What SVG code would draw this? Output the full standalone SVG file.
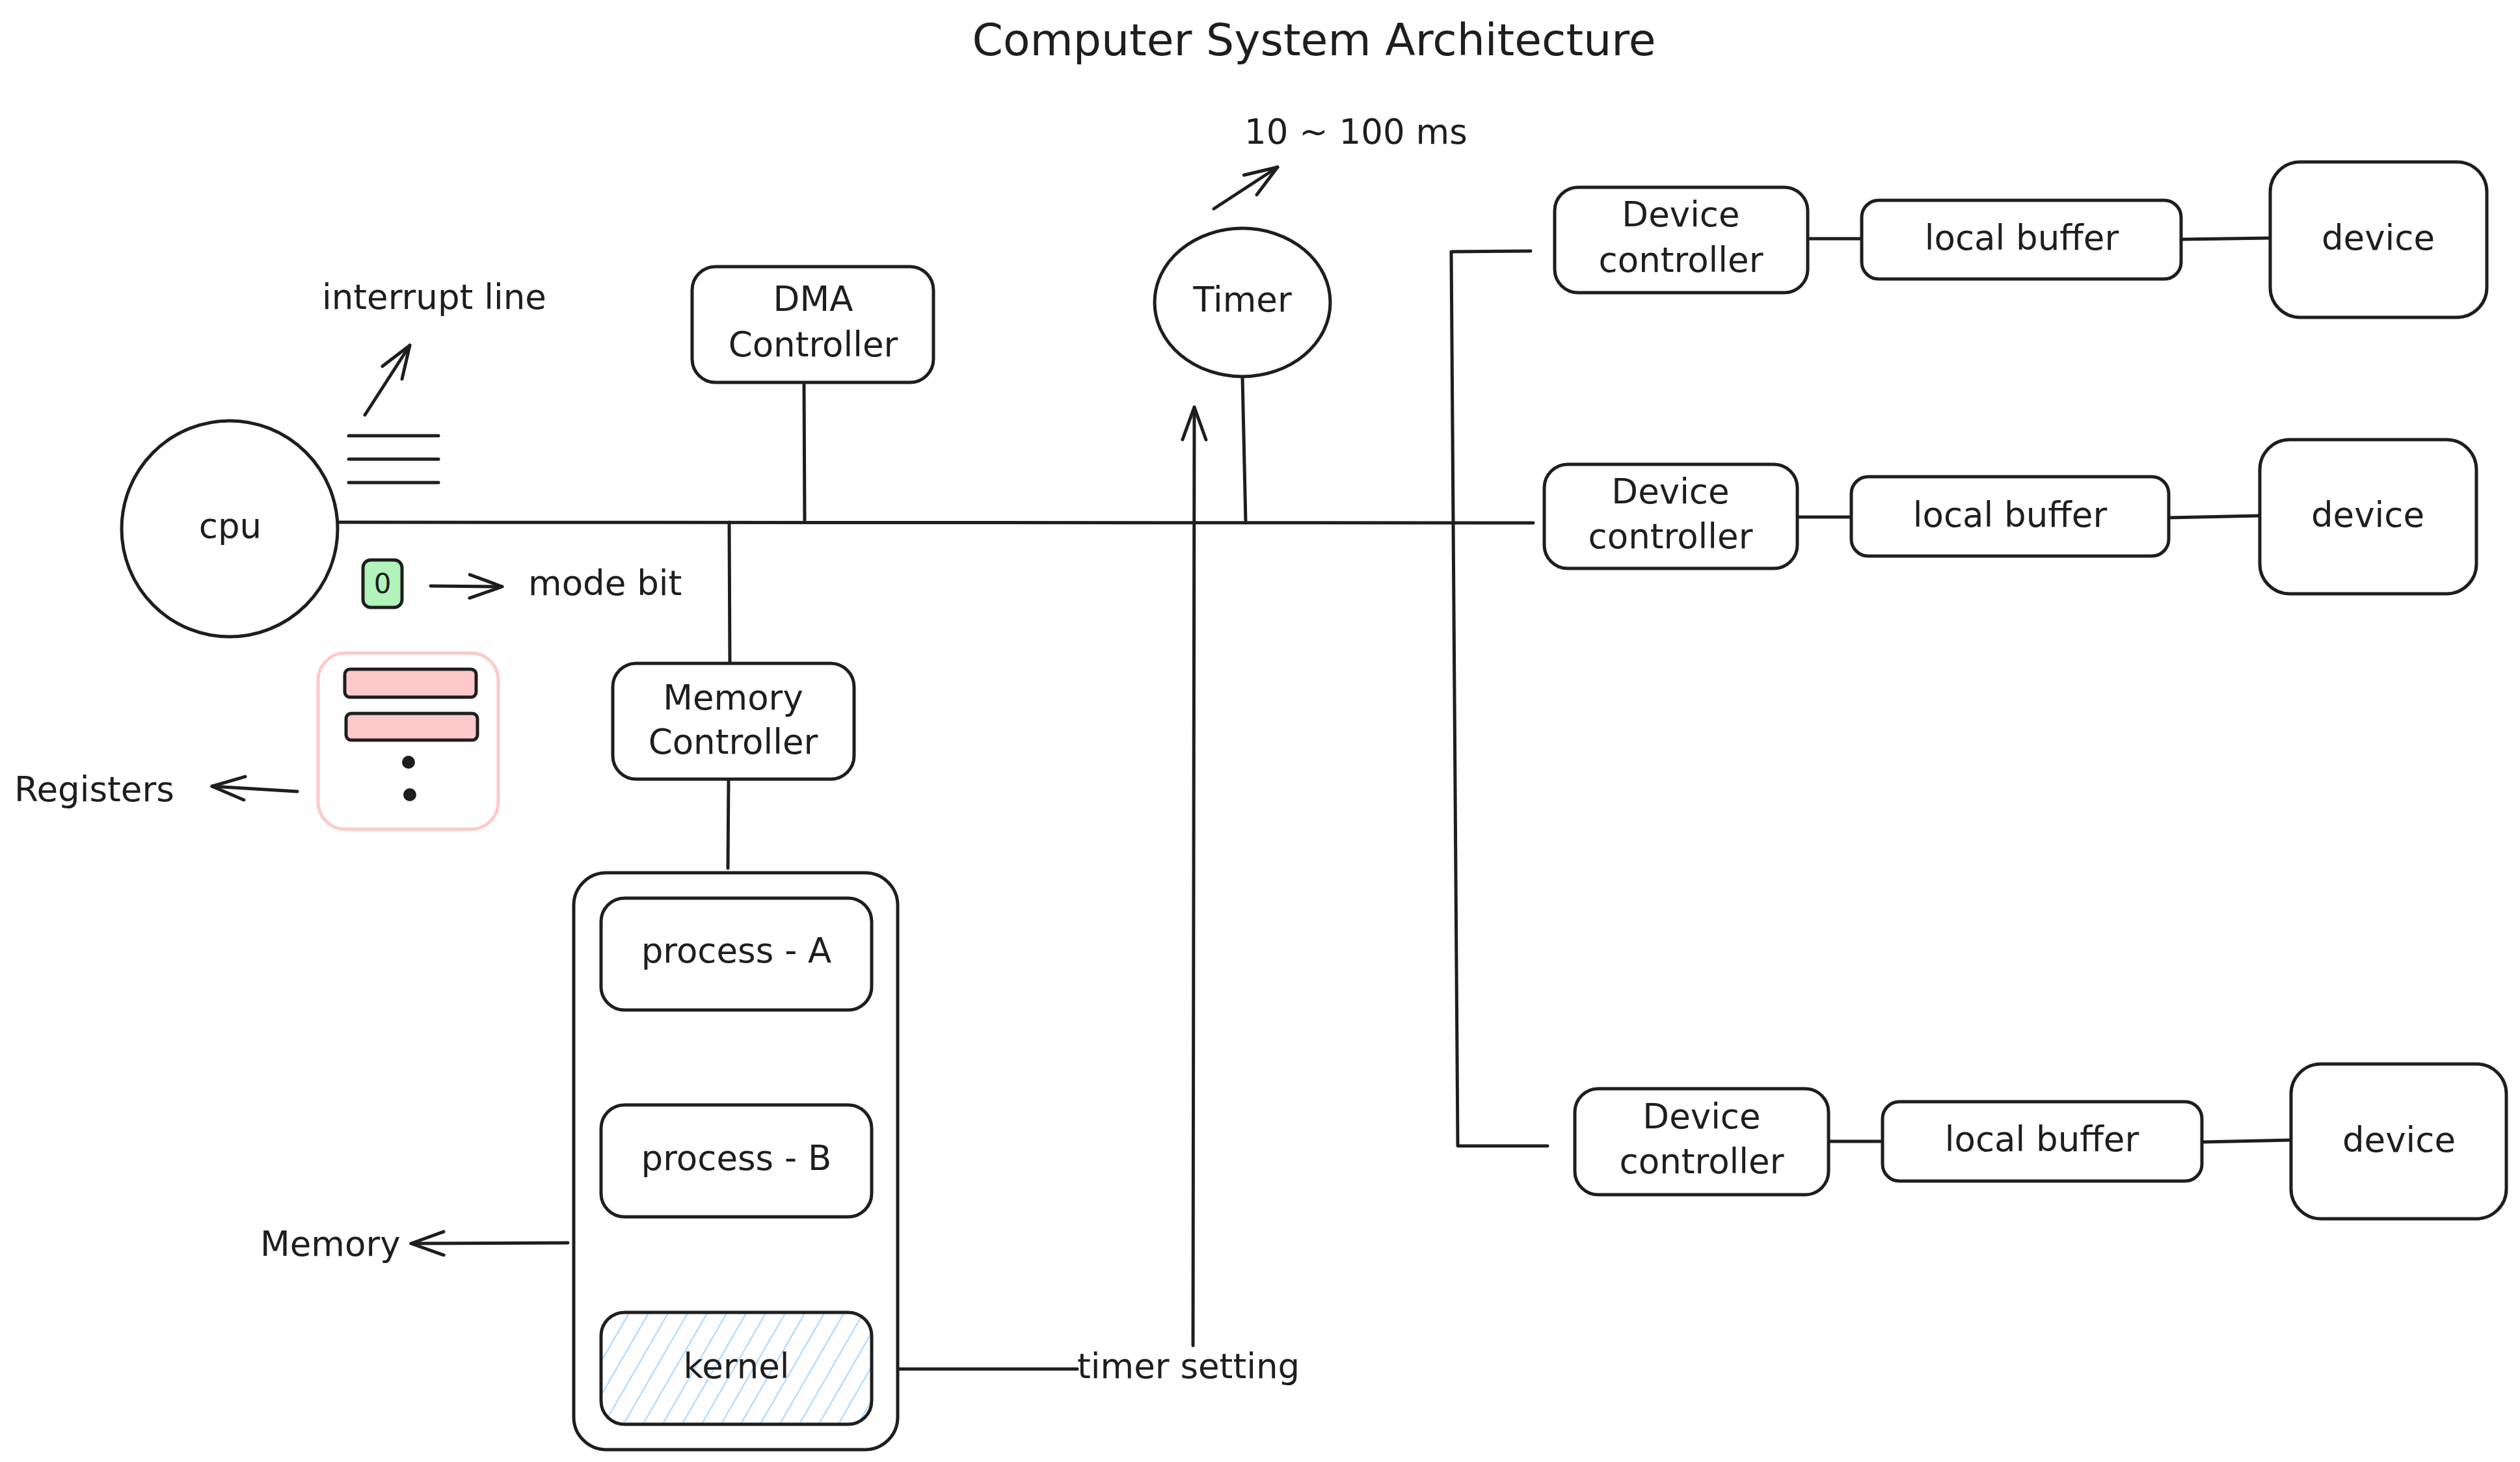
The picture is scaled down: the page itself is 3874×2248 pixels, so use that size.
<svg xmlns="http://www.w3.org/2000/svg" width="3874" height="2248" viewBox="0 0 3874 2248">
<style>
  text { font-family: "DejaVu Sans", "Liberation Sans", sans-serif; fill: #1e1e1e; }
  .lbl { font-size: 53px; }
  .mid { text-anchor: middle; }
  .title { font-size: 68px; text-anchor: middle; }
  .box { fill: #ffffff; stroke: #1e1e1e; stroke-width: 5; }
  .ln { fill: none; stroke: #1e1e1e; stroke-width: 5; stroke-linecap: round; stroke-linejoin: round; }
  .arr { fill: none; stroke: #1e1e1e; stroke-width: 5; stroke-linecap: round; marker-end: url(#head); }
</style>
<defs>
  <marker id="head" viewBox="-60 -30 70 60" refX="0" refY="0" markerWidth="70" markerHeight="60" markerUnits="userSpaceOnUse" orient="auto">
    <path d="M-50,-18 L0,0 L-50,18" fill="none" stroke="#1e1e1e" stroke-width="5" stroke-linecap="round" stroke-linejoin="round"/>
  </marker>
  <pattern id="hatch" patternUnits="userSpaceOnUse" width="26" height="26" patternTransform="rotate(30)">
    <line x1="0" y1="0" x2="0" y2="26" stroke="#a5d8ff" stroke-width="4"/>
  </pattern>
</defs>
<rect width="3874" height="2248" fill="#ffffff"/>

<text class="title" x="2020" y="85">Computer System Architecture</text>

<g id="connectors">
  <!-- system bus -->
  <path class="ln" d="M520,803 L2357,804"/>
  <!-- DMA to bus -->
  <path class="ln" d="M1236,590 L1237,803"/>
  <!-- Timer to bus -->
  <path class="ln" d="M1910,580 L1915,804"/>
  <!-- bus to memory controller -->
  <path class="ln" d="M1121,803 L1122,1020"/>
  <!-- memory controller to memory -->
  <path class="ln" d="M1120,1200 L1119,1335"/>
  <!-- device bracket -->
  <path class="ln" d="M2353,386 L2231,387 L2241,1762 L2379,1762"/>
  <!-- row 1 -->
  <path class="ln" d="M2779,367 L2862,367"/>
  <path class="ln" d="M3353,368 L3490,366"/>
  <!-- row 2 -->
  <path class="ln" d="M2763,795 L2846,795"/>
  <path class="ln" d="M3334,796 L3474,793"/>
  <!-- row 3 -->
  <path class="ln" d="M2811,1755 L2894,1755"/>
  <path class="ln" d="M3385,1756 L3522,1753"/>
  <!-- kernel to timer setting -->
  <path class="ln" d="M1350,2105 L1656,2105"/>
  <!-- arrows -->
  <path class="arr" d="M1834,2069 L1836,626"/>
  <path class="arr" d="M561,638 L630,531"/>
  <path class="arr" d="M1866,321 L1964,257"/>
  <path class="arr" d="M662,901 L772,902"/>
  <path class="arr" d="M873,1911 L632,1912"/>
  <path class="arr" d="M457,1217 L326,1209"/>
</g>

<g id="cpu">
  <ellipse class="box" cx="353" cy="813" rx="166" ry="166"/>
  <text class="lbl mid" x="354" y="827">cpu</text>
</g>

<g id="interrupt-lines">
  <path class="ln" d="M536,670 L674,670"/>
  <path class="ln" d="M536,706 L674,706"/>
  <path class="ln" d="M536,742 L674,742"/>
  <text class="lbl" x="495" y="475">interrupt line</text>
</g>

<g id="mode-bit">
  <rect x="558" y="861" width="60" height="73" rx="12" fill="#b2f2bb" stroke="#1e1e1e" stroke-width="5"/>
  <text class="mid" x="588" y="912" font-size="42">0</text>
  <text class="lbl" x="812" y="915">mode bit</text>
</g>

<g id="registers">
  <rect x="489" y="1004" width="277" height="271" rx="42" fill="none" stroke="#ffc9c9" stroke-width="5"/>
  <rect x="530" y="1029" width="202" height="43" rx="8" fill="#ffc9c9" stroke="#1e1e1e" stroke-width="5"/>
  <rect x="532" y="1097" width="202" height="41" rx="8" fill="#ffc9c9" stroke="#1e1e1e" stroke-width="5"/>
  <circle cx="628" cy="1172" r="10" fill="#1e1e1e"/>
  <circle cx="630" cy="1222" r="10" fill="#1e1e1e"/>
  <text class="lbl" x="22" y="1232">Registers</text>
</g>

<g id="dma-controller">
  <rect class="box" x="1064" y="410" width="371" height="178" rx="36"/>
  <text class="lbl mid" x="1250" y="478">DMA</text>
  <text class="lbl mid" x="1250" y="548">Controller</text>
</g>

<g id="timer">
  <ellipse class="box" cx="1910" cy="465" rx="135" ry="114"/>
  <text class="lbl mid" x="1910" y="479">Timer</text>
  <text class="lbl" x="1913" y="221">10 ~ 100 ms</text>
</g>

<g id="memory-controller">
  <rect class="box" x="942" y="1020" width="371" height="178" rx="36"/>
  <text class="lbl mid" x="1127" y="1091">Memory</text>
  <text class="lbl mid" x="1127" y="1159">Controller</text>
</g>

<g id="memory">
  <rect class="box" x="882" y="1342" width="498" height="887" rx="50"/>
  <text class="lbl" x="400" y="1931">Memory</text>
</g>

<g id="process-a">
  <rect class="box" x="924" y="1381" width="416" height="172" rx="36"/>
  <text class="lbl mid" x="1132" y="1480">process - A</text>
</g>

<g id="process-b">
  <rect class="box" x="924" y="1699" width="416" height="172" rx="36"/>
  <text class="lbl mid" x="1132" y="1799">process - B</text>
</g>

<g id="kernel">
  <rect x="924" y="2018" width="416" height="172" rx="36" fill="url(#hatch)" stroke="#1e1e1e" stroke-width="5"/>
  <text class="lbl mid" x="1132" y="2119">kernel</text>
  <text class="lbl" x="1656" y="2119">timer setting</text>
</g>

<g id="device-controller-1">
  <rect class="box" x="2390" y="288" width="389" height="162" rx="36"/>
  <text class="lbl mid" x="2584" y="348">Device</text>
  <text class="lbl mid" x="2584" y="418">controller</text>
</g>
<g id="local-buffer-1">
  <rect class="box" x="2862" y="308" width="491" height="121" rx="26"/>
  <text class="lbl mid" x="3108" y="384">local buffer</text>
</g>
<g id="device-1">
  <rect class="box" x="3490" y="249" width="333" height="239" rx="46"/>
  <text class="lbl mid" x="3656" y="384">device</text>
</g>

<g id="device-controller-2">
  <rect class="box" x="2374" y="714" width="389" height="160" rx="36"/>
  <text class="lbl mid" x="2568" y="774">Device</text>
  <text class="lbl mid" x="2568" y="843">controller</text>
</g>
<g id="local-buffer-2">
  <rect class="box" x="2846" y="733" width="488" height="122" rx="26"/>
  <text class="lbl mid" x="3090" y="810">local buffer</text>
</g>
<g id="device-2">
  <rect class="box" x="3474" y="676" width="333" height="237" rx="46"/>
  <text class="lbl mid" x="3640" y="810">device</text>
</g>

<g id="device-controller-3">
  <rect class="box" x="2421" y="1674" width="390" height="163" rx="36"/>
  <text class="lbl mid" x="2616" y="1735">Device</text>
  <text class="lbl mid" x="2616" y="1804">controller</text>
</g>
<g id="local-buffer-3">
  <rect class="box" x="2894" y="1694" width="491" height="122" rx="26"/>
  <text class="lbl mid" x="3139" y="1770">local buffer</text>
</g>
<g id="device-3">
  <rect class="box" x="3522" y="1636" width="331" height="238" rx="46"/>
  <text class="lbl mid" x="3688" y="1771">device</text>
</g>
</svg>
